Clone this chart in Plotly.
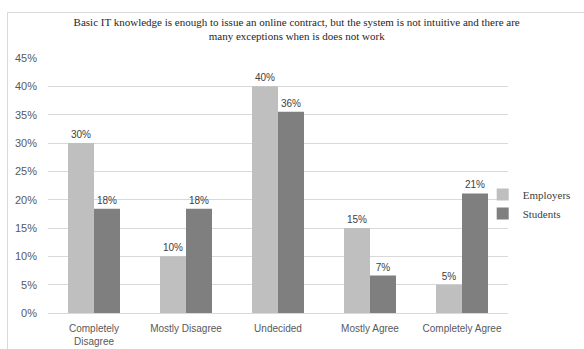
import plotly.graph_objects as go

# Survey responses (share of respondents)
categories = ["Completely<br>Disagree", "Mostly Disagree", "Undecided", "Mostly Agree", "Completely Agree"]
employers = [0.30, 0.10, 0.40, 0.15, 0.05]
students = [0.184, 0.184, 0.355, 0.066, 0.211]
y_ticks = [0, 0.05, 0.10, 0.15, 0.20, 0.25, 0.30, 0.35, 0.40, 0.45]

title_text = ("Basic IT knowledge is enough to issue an online contract, but the system is not intuitive "
              "and there are<br>many exceptions when is does not work")

sans = "Liberation Sans, Arial, sans-serif"
serif = "Liberation Serif, Times New Roman, serif"

fig = go.Figure()
fig.add_trace(go.Bar(
    name="Employers", x=categories, y=employers,
    marker=dict(color="#bfbfbf", line=dict(width=0)),
    texttemplate="%{y:.0%}", textposition="outside",
    textfont=dict(family=sans, size=10, color="#404040"),
    cliponaxis=False,
))
fig.add_trace(go.Bar(
    name="Students", x=categories, y=students,
    marker=dict(color="#7f7f7f", line=dict(width=0)),
    texttemplate="%{y:.0%}", textposition="outside",
    textfont=dict(family=sans, size=10, color="#404040"),
    cliponaxis=False,
))

fig.update_layout(
    width=584, height=349,
    margin=dict(l=48, r=76, t=58, b=36, autoexpand=False),
    paper_bgcolor="white", plot_bgcolor="white",
    barmode="group", bargap=0.435, bargroupgap=0,
    title=dict(text=title_text, x=0.508, xanchor="center", xref="container",
               y=1 - 26 / 349, yanchor="top", yref="container",
               font=dict(family=serif, size=11, color="#262626")),
    legend=dict(x=0.945, xanchor="left", y=0.427, yanchor="middle",
                font=dict(family=serif, size=11, color="#404040"),
                bgcolor="rgba(0,0,0,0)", itemwidth=30),
)
fig.update_xaxes(
    showgrid=False, showline=True, linecolor="#d9d9d9", linewidth=1,
    ticks="", tickfont=dict(family=sans, size=10, color="#595959"),
    ticklabelstandoff=6, automargin=False, fixedrange=True,
)
fig.update_yaxes(
    range=[0, 0.45], tickvals=y_ticks, tickformat=".0%",
    showgrid=True, gridcolor="#d9d9d9", gridwidth=1, zeroline=False,
    showline=False, ticks="", tickfont=dict(family=sans, size=11, color="#595959"),
    ticklabelstandoff=10, automargin=False, fixedrange=True,
)

# Chart-area frame
fig.add_shape(type="rect", xref="paper", yref="paper",
              x0=(7.5 - 48) / 460, x1=1.4, y0=-0.5, y1=(313 - 12.5) / 255,
              line=dict(color="#d9d9d9", width=1), fillcolor="rgba(0,0,0,0)", layer="below")

fig.write_html("out.html")
